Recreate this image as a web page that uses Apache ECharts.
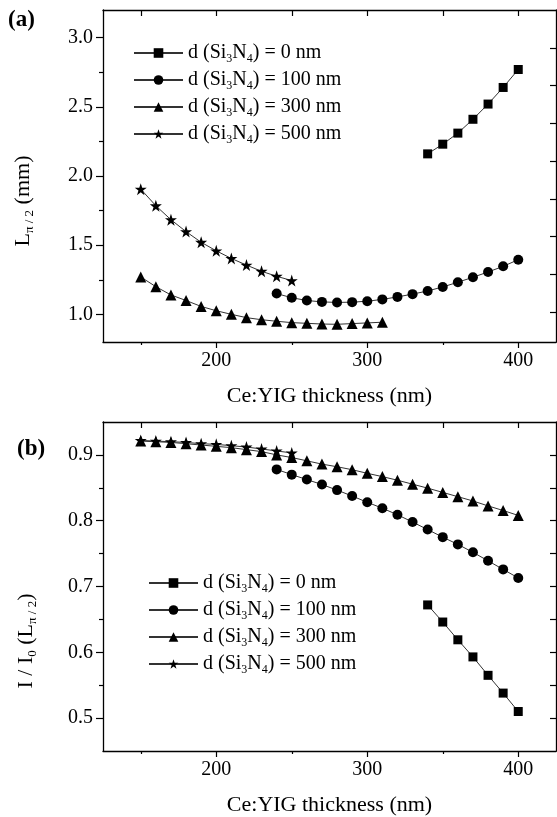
<!DOCTYPE html>
<html>
<head>
<meta charset="utf-8">
<script src="https://cdn.jsdelivr.net/npm/echarts@6/dist/echarts.min.js"></script>
<style>
html,body{margin:0;padding:0;background:#fff;}
#c{width:557px;height:817px;}
</style>
</head>
<body>
<div id="c"></div>
<script>
// ---------- data ----------
const thick0   = [340, 350, 360, 370, 380, 390, 400];
const thick100 = [240, 250, 260, 270, 280, 290, 300, 310, 320, 330, 340, 350, 360, 370, 380, 390, 400];
const thick300a = [150, 160, 170, 180, 190, 200, 210, 220, 230, 240, 250, 260, 270, 280, 290, 300, 310];
const thick300b = [150, 160, 170, 180, 190, 200, 210, 220, 230, 240, 250, 260, 270, 280, 290, 300, 310, 320, 330, 340, 350, 360, 370, 380, 390, 400];
const thick500 = [150, 160, 170, 180, 190, 200, 210, 220, 230, 240, 250];

// (a) L_pi/2 (mm)
const La0   = [2.16, 2.23, 2.31, 2.41, 2.52, 2.64, 2.77];
const La100 = [1.15, 1.12, 1.10, 1.09, 1.086, 1.088, 1.095, 1.108, 1.126, 1.146, 1.169, 1.198, 1.232, 1.268, 1.306, 1.347, 1.395];
const La300 = [1.27, 1.20, 1.14, 1.10, 1.057, 1.026, 1.00, 0.976, 0.961, 0.950, 0.940, 0.935, 0.930, 0.928, 0.933, 0.938, 0.943];
const La500 = [1.905, 1.785, 1.684, 1.598, 1.521, 1.459, 1.404, 1.356, 1.311, 1.275, 1.244];

// (b) I / I0
const Ib0   = [0.672, 0.646, 0.619, 0.593, 0.565, 0.538, 0.510];
const Ib100 = [0.878, 0.870, 0.8625, 0.855, 0.8465, 0.8375, 0.828, 0.819, 0.809, 0.798, 0.7865, 0.775, 0.764, 0.752, 0.739, 0.726, 0.713];
const Ib300 = [0.921, 0.920, 0.919, 0.917, 0.915, 0.913, 0.911, 0.908, 0.905, 0.900, 0.896, 0.891, 0.886, 0.882, 0.8775, 0.872, 0.867, 0.8615, 0.8555, 0.8495, 0.843, 0.8365, 0.830, 0.8225, 0.8155, 0.808];
const Ib500 = [0.922, 0.921, 0.920, 0.919, 0.917, 0.916, 0.914, 0.912, 0.909, 0.906, 0.903];

const seriesNames = ['d (Si3N4) = 0 nm', 'd (Si3N4) = 100 nm', 'd (Si3N4) = 300 nm', 'd (Si3N4) = 500 nm'];
const seriesRich  = ['d (Si{s|3}N{s|4}) = 0 nm', 'd (Si{s|3}N{s|4}) = 100 nm', 'd (Si{s|3}N{s|4}) = 300 nm', 'd (Si{s|3}N{s|4}) = 500 nm'];

const xTicksMajor = [200, 300, 400];
const xTicksMinor = [150, 250, 350];
const xTicksAll   = [150, 200, 250, 300, 350, 400];
const yaMajor = [1.0, 1.5, 2.0, 2.5, 3.0];
const yaMinor = [1.25, 1.75, 2.25, 2.75];
const yaRight = [1.014, 1.289, 1.562, 1.835, 2.108, 2.381, 2.654, 2.927];
const ybMajor = [0.5, 0.6, 0.7, 0.8, 0.9];
const ybMinor = [0.55, 0.65, 0.75, 0.85];
const ybAll   = [0.5, 0.55, 0.6, 0.65, 0.7, 0.75, 0.8, 0.85, 0.9];

// ---------- styles ----------
const FONT = '"Liberation Serif", "Times New Roman", serif';
const BLACK = '#000';
const STAR = 'path://M50,0 L61.8,35.1 L98.9,35.1 L68.9,57 L80.3,92.4 L50,70.6 L19.7,92.4 L31.1,57 L1.1,35.1 L38.2,35.1 Z';
const symbols = ['rect', 'circle', 'triangle', STAR];
const symSizes = [9, 10, 11, 12];

function pairs(xs, ys) { return xs.map((x, i) => [x, ys[i]]); }

const chart = echarts.init(document.getElementById('c'), null, {renderer: 'canvas'});

const grids = [
  {left: 103, top: 10, width: 453, height: 332},
  {left: 103, top: 422, width: 453, height: 334}
];

const axisLine = {show: true, onZero: false, lineStyle: {color: BLACK, width: 1.3}};

function xAxes(gi) {
  return [
    {gridIndex: gi, type: 'value', position: 'bottom', min: 125, max: 425,
     axisLine: axisLine, splitLine: {show: false},
     axisTick: {show: true, inside: false, length: 6, customValues: xTicksMajor, lineStyle: {color: BLACK, width: 1.2}},
     axisLabel: {show: true, customValues: xTicksMajor, margin: 9, color: BLACK, fontFamily: FONT, fontSize: 20},
     name: 'Ce:YIG thickness (nm)', nameLocation: 'middle', nameGap: 43,
     nameTextStyle: {color: BLACK, fontFamily: FONT, fontSize: 22}},
    {gridIndex: gi, type: 'value', position: 'bottom', min: 125, max: 425,
     axisLine: {show: false}, splitLine: {show: false},
     axisTick: {show: true, inside: false, length: 3, customValues: xTicksMinor, lineStyle: {color: BLACK, width: 1.2}},
     axisLabel: {show: false}},
    {gridIndex: gi, type: 'value', position: 'top', min: 125, max: 425,
     axisLine: axisLine, splitLine: {show: false},
     axisTick: {show: true, inside: true, length: 6, customValues: xTicksAll, lineStyle: {color: BLACK, width: 1.2}},
     axisLabel: {show: false}}
  ];
}

function yAxes(gi, min, max, major, minor, right, digits) {
  return [
    {gridIndex: gi, type: 'value', position: 'left', min: min, max: max,
     axisLine: axisLine, splitLine: {show: false},
     axisTick: {show: true, inside: false, length: 7, customValues: major, lineStyle: {color: BLACK, width: 1.2}},
     axisLabel: {show: true, customValues: major, margin: 10, color: BLACK, fontFamily: FONT, fontSize: 20,
                 formatter: v => v.toFixed(digits)}},
    {gridIndex: gi, type: 'value', position: 'left', min: min, max: max,
     axisLine: {show: false}, splitLine: {show: false},
     axisTick: {show: true, inside: false, length: 4, customValues: minor, lineStyle: {color: BLACK, width: 1.2}},
     axisLabel: {show: false}},
    {gridIndex: gi, type: 'value', position: 'right', min: min, max: max,
     axisLine: axisLine, splitLine: {show: false},
     axisTick: {show: true, inside: true, length: 6, customValues: right, lineStyle: {color: BLACK, width: 1.2}},
     axisLabel: {show: false}}
  ];
}

function mkSeries(name, idx, data, axisIdx) {
  return {
    name: name, type: 'line', xAxisIndex: axisIdx, yAxisIndex: axisIdx,
    data: data, symbol: symbols[idx], symbolSize: symSizes[idx],
    showAllSymbol: true, animation: false,
    lineStyle: {color: '#333', width: 1},
    itemStyle: {color: BLACK, borderWidth: 0},
    emphasis: {disabled: true}
  };
}

const legendText = {
  color: BLACK, fontFamily: FONT, fontSize: 20, lineHeight: 24,
  rich: {s: {fontFamily: FONT, fontSize: 12, lineHeight: 10, verticalAlign: 'bottom', color: BLACK}}
};
function legendFmt(name) { return seriesRich[seriesNames.indexOf(name)]; }

const option = {
  backgroundColor: '#fff',
  animation: false,
  grid: grids,
  xAxis: [...xAxes(0), ...xAxes(1)],
  yAxis: [...yAxes(0, 0.8, 3.2, yaMajor, yaMinor, yaRight, 1), ...yAxes(1, 0.45, 0.95, ybMajor, ybMinor, ybAll, 1)],
  legend: [
    {orient: 'vertical', left: 128, top: 36, padding: 5, itemWidth: 49, itemHeight: 12, itemGap: 3,
     selectedMode: false, data: seriesNames, formatter: legendFmt, textStyle: legendText},
    {orient: 'vertical', left: 143, top: 566, padding: 5, itemWidth: 49, itemHeight: 12, itemGap: 3,
     selectedMode: false, data: seriesNames, formatter: legendFmt, textStyle: legendText}
  ],
  series: [
    mkSeries(seriesNames[0], 0, pairs(thick0, La0), 0),
    mkSeries(seriesNames[1], 1, pairs(thick100, La100), 0),
    mkSeries(seriesNames[2], 2, pairs(thick300a, La300), 0),
    mkSeries(seriesNames[3], 3, pairs(thick500, La500), 0),
    mkSeries(seriesNames[0], 0, pairs(thick0, Ib0), 3),
    mkSeries(seriesNames[1], 1, pairs(thick100, Ib100), 3),
    mkSeries(seriesNames[2], 2, pairs(thick300b, Ib300), 3),
    mkSeries(seriesNames[3], 3, pairs(thick500, Ib500), 3)
  ],
  graphic: [
    {type: 'text', left: 8, top: 9, style: {text: '(a)', fill: BLACK, font: 'bold 23px ' + FONT}},
    {type: 'text', left: 17, top: 438, style: {text: '(b)', fill: BLACK, font: 'bold 23px ' + FONT}},
    {type: 'text', x: 23, y: 201, rotation: Math.PI / 2,
     style: {text: '{m|L}{s|π / 2}{m| (mm)}', align: 'center', verticalAlign: 'middle', fill: BLACK,
       rich: {m: {fontFamily: FONT, fontSize: 22, lineHeight: 26, fill: BLACK},
              s: {fontFamily: FONT, fontSize: 13, lineHeight: 10, verticalAlign: 'bottom', fill: BLACK}}}},
    {type: 'text', x: 26, y: 641, rotation: Math.PI / 2,
     style: {text: '{m|I / I}{s|0}{m| (L}{s|π / 2}{m|)}', align: 'center', verticalAlign: 'middle', fill: BLACK,
       rich: {m: {fontFamily: FONT, fontSize: 22, lineHeight: 26, fill: BLACK},
              s: {fontFamily: FONT, fontSize: 13, lineHeight: 10, verticalAlign: 'bottom', fill: BLACK}}}}
  ]
};
chart.setOption(option);
</script>
</body>
</html>
